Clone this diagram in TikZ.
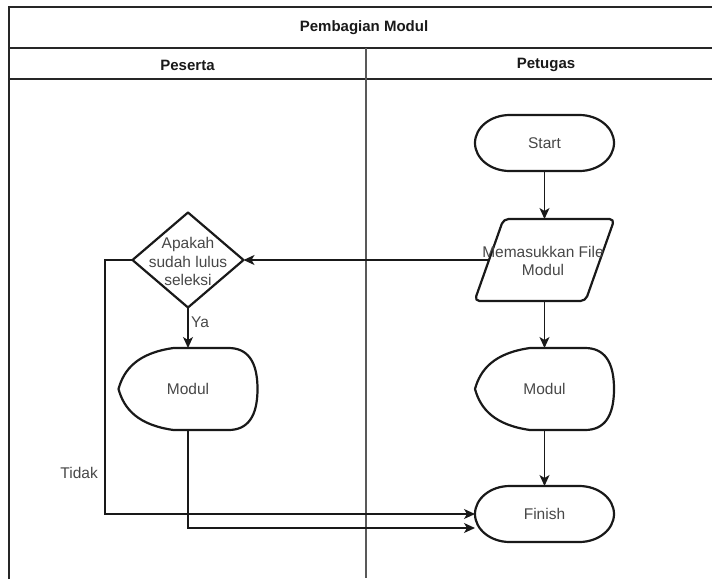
\documentclass[tikz,border=0pt]{standalone}
\usepackage{fontspec}
\setmainfont{Liberation Sans}
\usetikzlibrary{arrows.meta}
\tikzset{
  shp/.style={line width=2.2pt, draw=black!90, line join=round},
  conn/.style={line width=1.3pt, draw=black!90, -{Stealth[length=11pt,width=10pt,inset=3pt]}},
  txt/.style={text=black!72, font=\fontsize{15.5}{18.5}\selectfont, align=center, inner sep=0pt},
  hdr/.style={text=black!90, font=\fontsize{15}{18}\selectfont\bfseries, inner sep=0pt},
  frame/.style={line width=1.8pt, draw=black!85},
  pics/term/.style={code={
    \draw[shp] (-34.75,-28) -- (34.75,-28)
      .. controls (53.94,-28) and (69.5,-15.46) .. (69.5,0)
      .. controls (69.5,15.46) and (53.94,28) .. (34.75,28)
      -- (-34.75,28)
      .. controls (-53.94,28) and (-69.5,15.46) .. (-69.5,0)
      .. controls (-69.5,-15.46) and (-53.94,-28) .. (-34.75,-28) -- cycle;
    \node[txt] (-t) at (0,0) {#1};
    \coordinate (-n) at (0,-28);
    \coordinate (-s) at (0,28);
    \coordinate (-w) at (-69.5,0);
  }},
  pics/disp/.style={code={
    \draw[shp] (-14.5,-41) -- (40.5,-41)
      .. controls (59.83,-41) and (69.5,-27.33) .. (69.5,0)
      .. controls (69.5,27.33) and (59.83,41) .. (40.5,41)
      -- (-14.5,41)
      .. controls (-50,36) and (-64,20) .. (-69.5,0)
      .. controls (-64,-20) and (-50,-36) .. (-14.5,-41) -- cycle;
    \node[txt] (-t) at (0,0) {#1};
    \coordinate (-n) at (0,-41);
    \coordinate (-s) at (0,41);
  }},
  pics/para/.style={code={
    \draw[shp, rounded corners=5pt] (-41,-41) -- (70,-41) -- (41,41) -- (-70,41) -- cycle;
    \coordinate (-n) at (0,-41);
    \coordinate (-s) at (0,41);
    \coordinate (-w) at (-55.5,0);
  }},
  pics/dia/.style={code={
    \draw[shp] (-55.5,0) -- (0,-47.5) -- (55.5,0) -- (0,47.5) -- cycle;
    \coordinate (-n) at (0,-47.5);
    \coordinate (-s) at (0,47.5);
    \coordinate (-w) at (-55.5,0);
    \coordinate (-e) at (55.5,0);
  }}
}
\begin{document}
\begin{tikzpicture}[x=1pt, y=-1pt]
  \useasboundingbox (0,0) rectangle (712,579);
  % frame
  \draw[frame] (9,579) -- (9,7) -- (712,7);
  \draw[frame] (9,48) -- (712,48);
  \draw[frame] (9,79) -- (712,79);
  \draw[frame, draw=black!65] (366,48) -- (366,578);
  \node[hdr] (title) at (364,27.5) {Pembagian Modul};
  \node[hdr] (peserta) at (187.5,65) {Peserta};
  \node[hdr] (petugas) at (546,65) {Petugas};
  % shapes
  \pic (start) at (544.5,143) {term=Start};
  \pic (para) at (544.5,260) {para};
  \node[txt] (paratxt) at (543,261) {Memasukkan File\\Modul};
  \pic (dia) at (188,260) {dia};
  \node[txt] (diatxt) at (188,261.5) {Apakah\\sudah lulus\\seleksi};
  \pic (mod1) at (188,389) {disp=Modul};
  \pic (mod2) at (544.5,389) {disp=Modul};
  \pic (finish) at (544.5,514) {term=Finish};
  % connectors
  \draw[conn] (start-s) -- (para-n);
  \draw[conn] (para-w) -- (dia-e);
  \draw[conn] (dia-s) -- (mod1-n);
  \node[txt, anchor=west] (ya) at (191,322) {Ya};
  \draw[conn] (para-s) -- (mod2-n);
  \draw[conn] (mod2-s) -- (finish-n);
  \draw[conn] (dia-w) -- ++(-27.5,0) |- (finish-w);
  \coordinate (fin2) at (475,528);
  \draw[conn] (mod1-s) |- (fin2);
  \node[txt, anchor=east] (tidak) at (98,473) {Tidak};
\end{tikzpicture}
\end{document}
